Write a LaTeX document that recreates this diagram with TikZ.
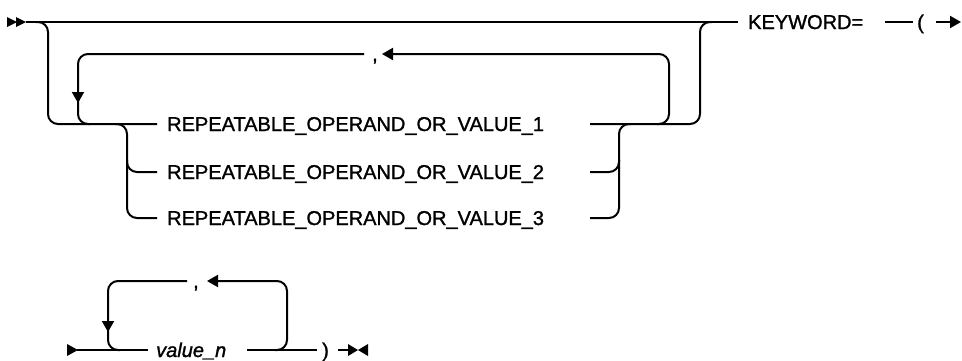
\documentclass[tikz,border=0pt]{standalone}
\usepackage{fontspec}
\setmainfont{Liberation Sans}[FakeBold=1.3]
\usetikzlibrary{arrows.meta}
\begin{document}
\begin{tikzpicture}[x=1pt,y=-1pt,
  rr/.style={line width=2pt, rounded corners=10pt},
  tipped/.style={rr, -{Triangle[length=11pt,width=12pt]}},
  lbl/.style={font=\fontsize{20}{22}\selectfont, inner sep=0pt, anchor=base west},
  marker/.style={fill=black}]
\useasboundingbox (0,0) rectangle (962,360);
% ---- texts ----
\node[lbl] (r1) at (167,131) {REPEATABLE\_OPERAND\_OR\_VALUE\_1};
\node[lbl] (r2) at (167,179) {REPEATABLE\_OPERAND\_OR\_VALUE\_2};
\node[lbl] (r3) at (167,225) {REPEATABLE\_OPERAND\_OR\_VALUE\_3};
\node[lbl] (c1) at (372,61) {,};
\node[lbl] (kw) at (748,29) {KEYWORD=};
\node[lbl] (lp) at (917,29) {(};
\node[lbl] (vn) at (156,357) {\itshape value\_n};
\node[lbl] (c2) at (193,288) {,};
\node[lbl] (rp) at (322,357) {)};
% ---- start marker ----
\fill[marker] (7,17) -- (17,22) -- (7,27) -- cycle;
\fill[marker] (16,17) -- (26,22) -- (16,27) -- cycle;
% ---- main line ----
\draw[rr] (26,22) -- (738,22);
% outer bypass
\draw[rr] (36,22) -- (48,22) -- (48,124) -- (157,124);
\draw[rr] (590,124) -- (700,124) -- (700,22) -- (712,22);
% group left
\draw[rr] (115,124) -- (127,124) -- (127,218) -- (157,218);
\draw[rr] (127,160) -- (127,172) -- (157,172);
% group right
\draw[rr] (590,218) -- (619,218) -- (619,124) -- (631,124);
\draw[rr] (590,172) -- (619,172) -- (619,160);
% repeat loop 1
\draw[tipped] (657,124) -- (669,124) -- (669,54) -- (382,54);
\draw[tipped] (364,54) -- (78,54) -- (78,103);
\draw[rr] (78,98) -- (78,124) -- (90,124);
% keyword part
\draw[rr] (885,22) -- (913,22);
\draw[tipped] (936,22) -- (961,22);
% ---- second line ----
\fill[marker] (67,344) -- (78,350) -- (67,356) -- cycle;
\draw[rr] (77,350) -- (148,350);
\draw[rr] (247,350) -- (317,350);
\draw[tipped] (275,350) -- (287,350) -- (287,281) -- (207,281);
\draw[tipped] (187,281) -- (108,281) -- (108,332);
\draw[rr] (108,326) -- (108,350) -- (120,350);
\draw[rr] (338,350) -- (349,350);
\fill[marker] (348,344) -- (358,350) -- (348,356) -- cycle;
\fill[marker] (368,344) -- (358,350) -- (368,356) -- cycle;
\end{tikzpicture}
\end{document}
